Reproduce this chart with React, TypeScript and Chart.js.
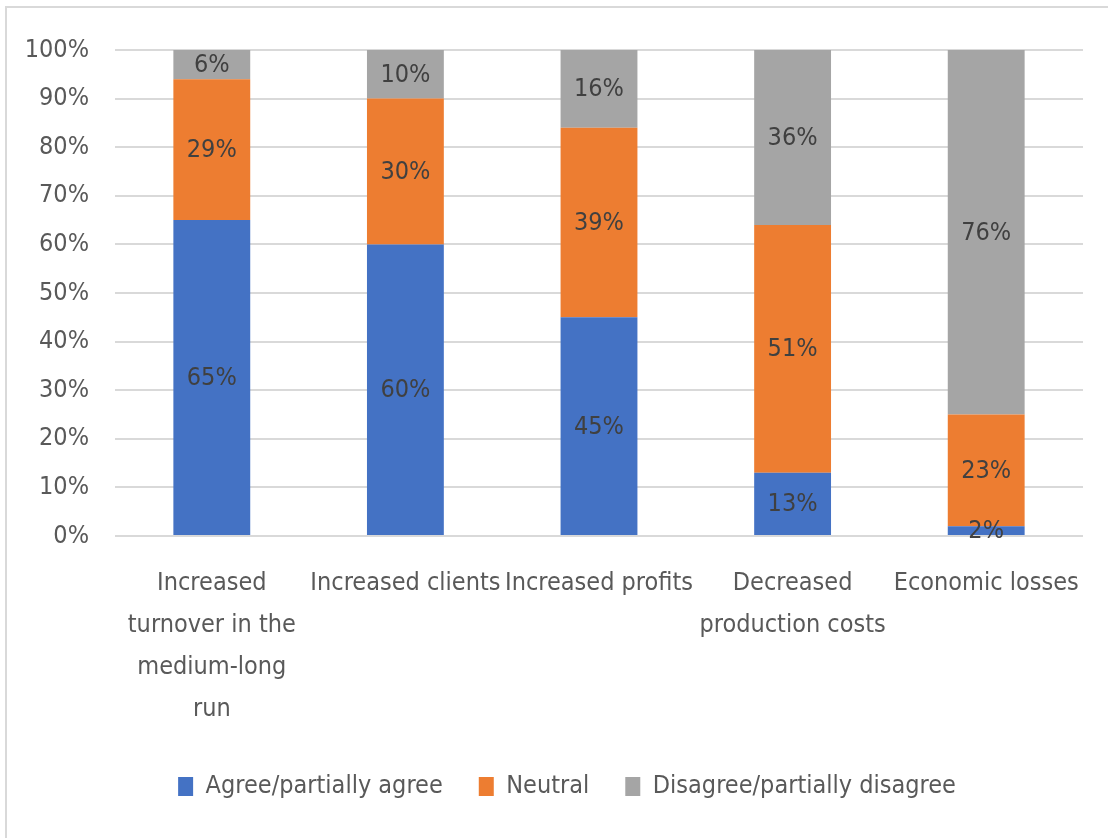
import React, { useEffect, useRef } from "react";
import { Chart, registerables } from "chart.js";

Chart.register(...registerables);

// Survey outcomes per statement (percent of respondents)
const categories: (string | string[])[] = [
  ["Increased", "turnover in the", "medium-long", "run"],
  "Increased clients",
  "Increased profits",
  ["Decreased", "production costs"],
  "Economic losses",
];
const agreeValues = [65, 60, 45, 13, 2];
const neutralValues = [29, 30, 39, 51, 23];
const disagreeValues = [6, 10, 16, 36, 76];
const seriesNames = ["Agree/partially agree", "Neutral", "Disagree/partially disagree"];
const yTicks = [0, 10, 20, 30, 40, 50, 60, 70, 80, 90, 100];

const FONT_FAMILY = "'DejaVu Sans Condensed', 'Liberation Sans', sans-serif";
const FONT_SIZE = 25;
const TEXT_COLOR = "#595959";
const LABEL_COLOR = "#404040";
const GRID_COLOR = "#d9d9d9";

// Writes each segment's percentage in the middle of its visible part
const segmentLabels = {
  id: "segmentLabels",
  afterDatasetsDraw(chart: Chart) {
    const { ctx, chartArea } = chart;
    ctx.save();
    ctx.font = `${FONT_SIZE}px ${FONT_FAMILY}`;
    ctx.fillStyle = LABEL_COLOR;
    ctx.textAlign = "center";
    ctx.textBaseline = "middle";
    chart.data.datasets.forEach((ds, di) => {
      const meta = chart.getDatasetMeta(di);
      meta.data.forEach((el: any, i) => {
        const v = ds.data[i] as number;
        if (!v) return;
        const top = Math.max(el.y, chartArea.top);
        const bottom = Math.min(el.base, chartArea.bottom);
        ctx.fillText(`${v}%`, el.x, (top + bottom) / 2 + 1);
      });
    });
    ctx.restore();
  },
};

// Centres the legend row a little right of the canvas middle
const legendOffset = {
  id: "legendOffset",
  afterLayout(chart: any) {
    if (chart.legend) chart.legend.left = 51;
  },
};

export default function App() {
  const canvasRef = useRef<HTMLCanvasElement | null>(null);

  useEffect(() => {
    if (!canvasRef.current) return;
    const chart = new Chart(canvasRef.current, {
      type: "bar",
      data: {
        labels: categories,
        datasets: [
          { label: seriesNames[0], data: agreeValues, backgroundColor: "#4472C4" },
          { label: seriesNames[1], data: neutralValues, backgroundColor: "#ED7D31" },
          { label: seriesNames[2], data: disagreeValues, backgroundColor: "#A5A5A5" },
        ],
      },
      options: {
        responsive: false,
        animation: false,
        datasets: {
          bar: { barPercentage: 1, categoryPercentage: 0.397 },
        },
        layout: { padding: { top: 50, right: 25, bottom: 29, left: 0 } },
        scales: {
          x: {
            stacked: true,
            grid: { display: false },
            border: { display: false },
            ticks: {
              color: TEXT_COLOR,
              font: { family: FONT_FAMILY, size: FONT_SIZE, lineHeight: 1.68 },
              padding: 18,
              maxRotation: 0,
              autoSkip: false,
            },
            afterFit(scale: any) {
              scale.height = 202;
            },
          },
          y: {
            stacked: true,
            min: 0,
            max: 100,
            afterBuildTicks(scale: any) {
              scale.ticks = yTicks.map((value) => ({ value }));
            },
            grid: { color: GRID_COLOR, lineWidth: 2, drawTicks: false },
            border: { display: false },
            ticks: {
              color: TEXT_COLOR,
              font: { family: FONT_FAMILY, size: FONT_SIZE },
              padding: 26,
              callback: (v: any) => `${v}%`,
            },
            afterFit(scale: any) {
              scale.width = 115;
            },
          },
        },
        plugins: {
          legend: {
            position: "bottom",
            labels: {
              color: TEXT_COLOR,
              font: { family: FONT_FAMILY, size: FONT_SIZE },
              boxWidth: 15,
              boxHeight: 19,
              padding: 36,
            },
          },
          tooltip: { enabled: false },
        },
      },
      plugins: [segmentLabels, legendOffset],
    });
    return () => chart.destroy();
  }, []);

  return (
    <div style={{ position: "absolute", left: 0, top: 0, width: 1108, height: 838, background: "#fff", overflow: "hidden" }}>
      <div
        style={{
          position: "absolute",
          left: 5,
          top: 6,
          width: 1200,
          height: 900,
          borderLeft: `2px solid ${GRID_COLOR}`,
          borderTop: `2px solid ${GRID_COLOR}`,
        }}
      />
      <canvas ref={canvasRef} width={1108} height={838} style={{ position: "absolute", left: 0, top: 0 }} />
    </div>
  );
}
